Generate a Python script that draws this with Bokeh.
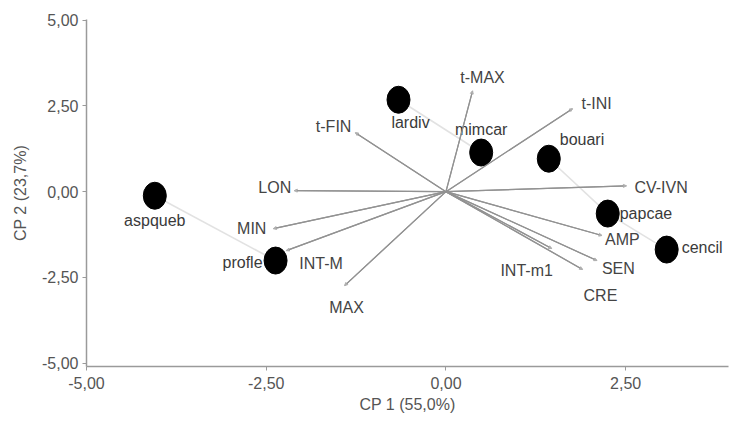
from bokeh.plotting import figure
from bokeh.models import ColumnDataSource, FixedTicker, Range1d, Arrow, NormalHead
from bokeh.core.properties import value
from bokeh.embed import file_html
from bokeh.resources import INLINE

# ---- data ----
species = ["aspqueb", "profle", "lardiv", "mimcar", "bouari", "papcae", "cencil"]
species_x = [-4.05, -2.37, -0.66, 0.49, 1.43, 2.25, 3.07]
species_y = [-0.12, -2.01, 2.68, 1.14, 0.96, -0.64, -1.69]

variables = ["t-MAX", "t-INI", "t-FIN", "LON", "CV-IVN", "MIN", "INT-M", "MAX",
             "AMP", "SEN", "CRE", "INT-m1"]
var_x = [0.37, 1.76, -1.26, -2.11, 2.51, -2.40, -2.22, -1.41, 2.17, 2.10, 1.90, 1.47]
var_y = [2.94, 2.42, 1.72, 0.03, 0.17, -1.08, -1.72, -2.74, -1.28, -2.01, -2.27, -1.66]

# links between species (light gray connectors)
links_from = ["aspqueb", "lardiv", "bouari", "papcae"]
links_to = ["profle", "mimcar", "papcae", "cencil"]

x_ticks = [-5.0, -2.5, 0.0, 2.5]
y_ticks = [-5.0, -2.5, 0.0, 2.5, 5.0]
x_tick_labels = ["-5,00", "-2,50", "0,00", "2,50"]
y_tick_labels = ["-5,00", "-2,50", "0,00", "2,50", "5,00"]

x_title = "CP 1 (55,0%)"
y_title = "CP 2 (23,7%)"

# ---- label placement (screen offsets, styling only) ----
species_label_style = {
    "aspqueb": ("center", 0, 25),
    "profle": ("right", -13, 2),
    "lardiv": ("center", 12, 23),
    "mimcar": ("center", 0, -23),
    "bouari": ("left", 11, -19),
    "papcae": ("left", 12, 0),
    "cencil": ("left", 15, -2),
}
var_label_style = {
    "t-MAX": ("center", 10, -13),
    "t-INI": ("left", 9, -5),
    "t-FIN": ("right", -4, -6),
    "LON": ("right", -3, -3),
    "CV-IVN": ("left", 8, 2),
    "MIN": ("right", -7, 0),
    "INT-M": ("left", 13, 13),
    "MAX": ("center", 2, 22),
    "AMP": ("left", 3, 4),
    "SEN": ("left", 5, 8),
    "CRE": ("left", 1, 26),
    "INT-m1": ("center", -25, 22),
}

FONT = "Liberation Sans"
TXT = "#3a3a3a"
GRAY = "#929292"

p = figure(width=735, height=423, output_backend="svg", toolbar_location=None,
           x_range=Range1d(-5.0, 3.93), y_range=Range1d(-5.1, 5.02),
           min_border_left=86, min_border_right=7, min_border_top=19, min_border_bottom=57)
p.outline_line_color = None
p.xgrid.visible = False
p.ygrid.visible = False
p.background_fill_color = "white"

for ax in (p.xaxis[0], p.yaxis[0]):
    ax.axis_line_color = "#9a9a9a"
    ax.axis_line_width = 1.5
    ax.major_tick_line_color = "#9a9a9a"
    ax.major_tick_out = 4
    ax.major_tick_in = 0
    ax.minor_tick_line_color = None
    ax.major_label_text_font = FONT
    ax.major_label_text_font_size = "16px"
    ax.major_label_text_color = "#555555"
    ax.axis_label_text_font = FONT
    ax.axis_label_text_font_size = "16px"
    ax.axis_label_text_font_style = "normal"
    ax.axis_label_text_color = "#555555"

p.xaxis.ticker = FixedTicker(ticks=x_ticks)
p.yaxis.ticker = FixedTicker(ticks=y_ticks)
p.xaxis.major_label_overrides = {t: l for t, l in zip(x_ticks, x_tick_labels)}
p.yaxis.major_label_overrides = {t: l for t, l in zip(y_ticks, y_tick_labels)}
p.xaxis.axis_label = x_title
p.yaxis.axis_label = y_title
p.xaxis.major_label_standoff = 6
p.yaxis.major_label_standoff = 4
p.xaxis.axis_label_standoff = 4
p.yaxis.axis_label_standoff = 10

# connectors between species
idx = {s: i for i, s in enumerate(species)}
link_src = ColumnDataSource(dict(
    x0=[species_x[idx[a]] for a in links_from], y0=[species_y[idx[a]] for a in links_from],
    x1=[species_x[idx[b]] for b in links_to], y1=[species_y[idx[b]] for b in links_to]))
p.segment("x0", "y0", "x1", "y1", source=link_src, line_color="#e2e2e2", line_width=1.6)

# variable vectors
vec_src = ColumnDataSource(dict(x0=[0.0] * len(var_x), y0=[0.0] * len(var_y), x1=var_x, y1=var_y))
p.segment("x0", "y0", "x1", "y1", source=vec_src, line_color=GRAY, line_width=1.2)
p.add_layout(Arrow(end=NormalHead(size=3, fill_color="#b0b0b0", line_color="#b0b0b0"),
                   x_start="x0", y_start="y0", x_end="x1", y_end="y1", source=vec_src,
                   line_color=GRAY, line_width=1.2))

# species points
p.ellipse(species_x, species_y, width=23, height=27, width_units="screen",
          height_units="screen", fill_color="black", line_color="black")


def add_labels(names, xs, ys, style, color):
    for align in ("left", "right", "center"):
        sel = [i for i, n in enumerate(names) if style[n][0] == align]
        if not sel:
            continue
        src = ColumnDataSource(dict(
            x=[xs[i] for i in sel], y=[ys[i] for i in sel], t=[names[i] for i in sel],
            dx=[style[names[i]][1] for i in sel], dy=[style[names[i]][2] for i in sel]))
        p.text("x", "y", text="t", source=src, x_offset="dx", y_offset="dy",
               text_align=align, text_baseline="middle", text_font=value(FONT),
               text_font_size="16px", text_color=color)


add_labels(variables, var_x, var_y, var_label_style, "#444444")
add_labels(species, species_x, species_y, species_label_style, TXT)

open("out.html", "w").write(file_html(p, INLINE))
